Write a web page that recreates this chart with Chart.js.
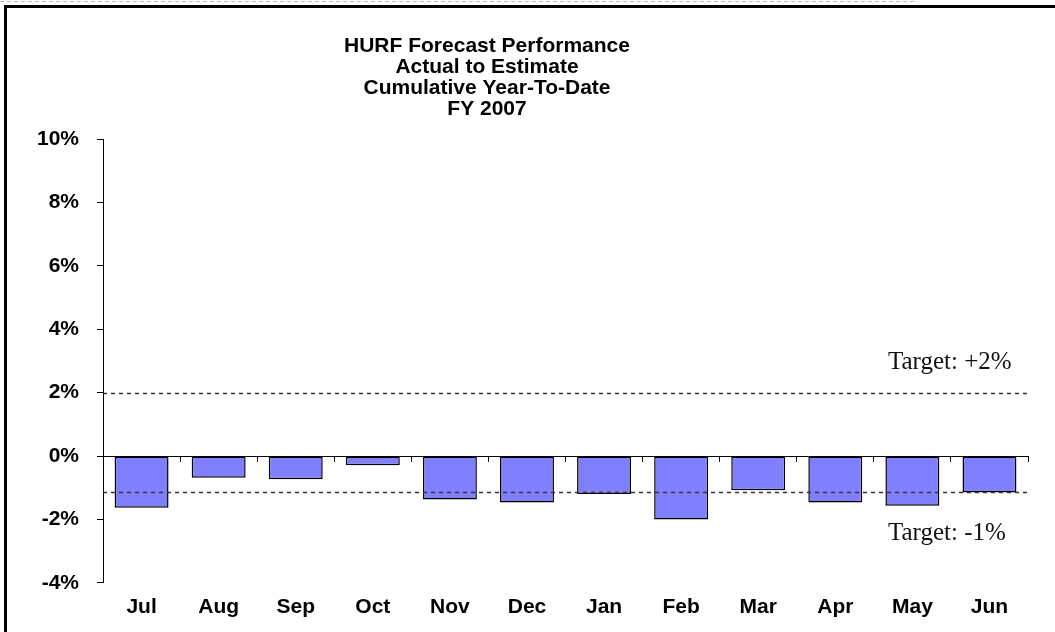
<!DOCTYPE html>
<html>
<head>
<meta charset="utf-8">
<script src="https://cdn.jsdelivr.net/npm/chart.js@4"></script>
<style>
  html, body { margin: 0; padding: 0; background: #fff; }
  #wrap { position: relative; width: 1055px; height: 632px; }
</style>
</head>
<body>
<div id="wrap"><canvas id="chart-hurf"></canvas></div>
<script>
const titleLines = ["HURF Forecast Performance", "Actual to Estimate", "Cumulative Year-To-Date", "FY 2007"];
const months = ["Jul", "Aug", "Sep", "Oct", "Nov", "Dec", "Jan", "Feb", "Mar", "Apr", "May", "Jun"];
const ytdPerformance = [-1.63, -0.69, -0.73, -0.29, -1.37, -1.47, -1.2, -2.0, -1.08, -1.47, -1.57, -1.15];
const targetValues = [2, -1.12];
const targetLabels = ["Target: +2%", "Target: -1%"];
const yMin = -4, yMax = 10, yStep = 2;

(function () {
  const black = "#000";
  const barFill = "#8080ff";
  const labelFont = { family: "'Liberation Sans', Arial, sans-serif", size: 21, weight: "bold" };

  // frame, title and the two target lines
  const decorations = {
    id: "decorations",
    beforeDraw(chart) {
      const ctx = chart.ctx;
      ctx.save();
      ctx.strokeStyle = "#bbb";
      ctx.lineWidth = 1;
      ctx.setLineDash([4, 3]);
      ctx.beginPath();
      ctx.moveTo(0, 1.5);
      ctx.lineTo(915, 1.5);
      ctx.stroke();
      ctx.fillStyle = black;
      ctx.fillRect(4, 5, 3, 632);
      ctx.fillRect(4, 5, 1051, 3);

      ctx.font = "bold 21px 'Liberation Sans', Arial, sans-serif";
      ctx.textAlign = "center";
      ctx.textBaseline = "middle";
      titleLines.forEach((t, i) => ctx.fillText(t, 487, 46 + i * 21));
      ctx.restore();
    },
    afterDatasetsDraw(chart) {
      const ctx = chart.ctx;
      const area = chart.chartArea;
      const y = chart.scales.y;
      ctx.save();
      ctx.strokeStyle = "#333";
      ctx.lineWidth = 1.5;
      ctx.setLineDash([4, 4]);
      targetValues.forEach((v) => {
        const py = Math.round(y.getPixelForValue(v)) + 0.5;
        ctx.beginPath();
        ctx.moveTo(area.left, py);
        ctx.lineTo(area.right, py);
        ctx.stroke();
      });
      ctx.setLineDash([]);
      ctx.fillStyle = "#111";
      ctx.font = "25px 'Liberation Serif', 'Times New Roman', serif";
      ctx.textAlign = "left";
      ctx.textBaseline = "alphabetic";
      targetLabels.forEach((t, i) => {
        const py = y.getPixelForValue(targetValues[i]);
        const off = targetValues[i] > 0 ? -24 : 48;
        ctx.fillText(t, 888, py + off);
      });
      ctx.restore();
    },
  };

  new Chart(document.getElementById("chart-hurf"), {
    type: "bar",
    data: {
      labels: months,
      datasets: [
        {
          label: "Actual to Estimate",
          data: ytdPerformance,
          backgroundColor: barFill,
          borderColor: black,
          borderWidth: 1.5,
          borderSkipped: false,
          categoryPercentage: 1,
          barPercentage: 0.7,
          xAxisID: "x",
        },
      ],
    },
    options: {
      responsive: true,
      maintainAspectRatio: false,
      animation: false,
      layout: { padding: { left: 19, right: 27, top: 139, bottom: 0 } },
      plugins: { legend: { display: false }, tooltip: { enabled: false } },
      scales: {
        x: {
          position: "bottom",
          grid: { display: false, drawTicks: false, tickLength: 0 },
          border: { display: false },
          ticks: { color: black, font: labelFont, padding: 12 },
        },
        x0: {
          type: "category",
          position: { y: 0 },
          offset: true,
          grid: { offset: true, drawOnChartArea: false, tickLength: 5, color: black, lineWidth: 1 },
          border: { display: true, color: black, width: 1 },
          ticks: { display: false },
        },
        y: {
          min: yMin,
          max: yMax,
          grid: { drawOnChartArea: false, tickLength: 6, color: black, lineWidth: 1 },
          border: { display: true, color: black, width: 1 },
          ticks: {
            stepSize: yStep,
            color: black,
            font: labelFont,
            padding: 18,
            callback: (v) => v + "%",
          },
        },
      },
    },
    plugins: [decorations],
  });
})();
</script>
</body>
</html>
